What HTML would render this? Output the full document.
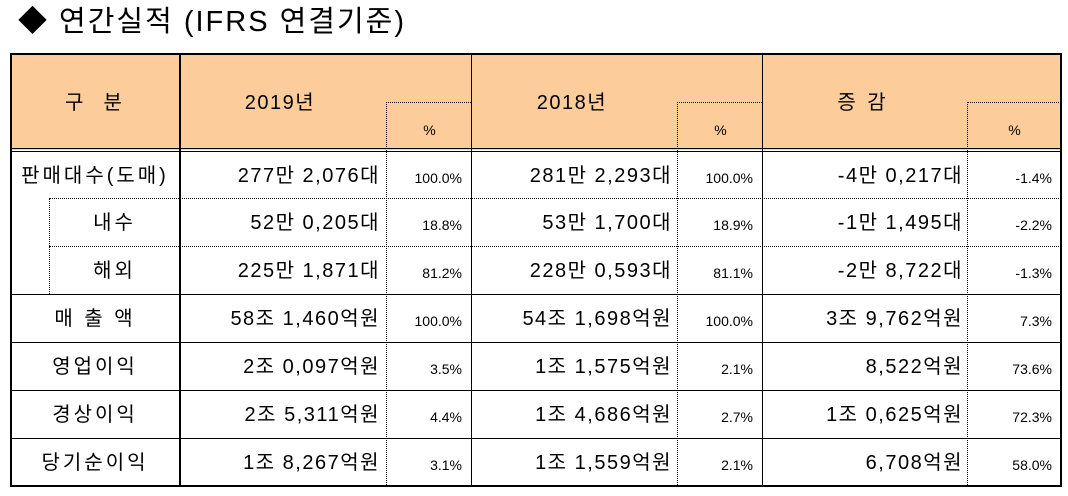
<!DOCTYPE html>
<html><head><meta charset="utf-8"><style>
body{margin:0;width:1068px;height:496px;background:#fff;position:relative;overflow:hidden;font-family:"Liberation Sans","Noto Sans CJK KR","NanumGothic",sans-serif;color:#000}
.a{position:absolute}
.hl{position:absolute;height:0}
.vl{position:absolute;width:0}
.t{position:absolute;font-size:20px;line-height:20px;white-space:nowrap;letter-spacing:1.5px}
.r{text-align:right}
.c{text-align:center}
.s{font-size:14px;letter-spacing:0}
.lab{letter-spacing:3px}
</style></head><body>
<div class="a" style="left:18px;top:3px;font-size:29px;line-height:38px;letter-spacing:2px">◆ 연간실적 (IFRS 연결기준)</div>
<div class="a" style="left:11px;top:54px;width:1050px;height:96px;background:#fccc9a"></div>
<div class="a" style="left:10px;top:53px;width:1048px;height:430px;border:2px solid #000"></div>
<div class="hl" style="left:11px;top:148px;width:1050px;border-top:1px solid #000"></div>
<div class="hl" style="left:11px;top:151px;width:1050px;border-top:1px solid #000"></div>
<div class="vl" style="left:179px;top:54px;height:431px;border-left:2px solid #000"></div>
<div class="vl" style="left:471px;top:54px;height:431px;border-left:1px solid #000"></div>
<div class="vl" style="left:762px;top:54px;height:431px;border-left:1px solid #000"></div>
<div class="vl" style="left:386px;top:102px;height:383px;border-left:1px dotted #000"></div>
<div class="vl" style="left:677px;top:102px;height:383px;border-left:1px dotted #000"></div>
<div class="vl" style="left:967px;top:102px;height:383px;border-left:1px dotted #000"></div>
<div class="hl" style="left:386px;top:102px;width:85px;border-top:1px dotted #000"></div>
<div class="hl" style="left:677px;top:102px;width:85px;border-top:1px dotted #000"></div>
<div class="hl" style="left:967px;top:102px;width:94px;border-top:1px dotted #000"></div>
<div class="vl" style="left:49px;top:198px;height:96px;border-left:1px dotted #000"></div>
<div class="hl" style="left:49px;top:198px;width:1012px;border-top:1px dotted #000"></div>
<div class="hl" style="left:49px;top:246px;width:1012px;border-top:1px dotted #000"></div>
<div class="hl" style="left:11px;top:294px;width:1050px;border-top:1px solid #000"></div>
<div class="hl" style="left:11px;top:342px;width:1050px;border-top:1px solid #000"></div>
<div class="hl" style="left:11px;top:390px;width:1050px;border-top:1px solid #000"></div>
<div class="hl" style="left:11px;top:438px;width:1050px;border-top:1px solid #000"></div>

<div class="t c lab" style="left:11px;width:168px;top:93px">구&nbsp;&nbsp;분</div>
<div class="t c" style="left:180px;width:200px;top:93px">2019년</div>
<div class="t c" style="left:472px;width:200px;top:93px">2018년</div>
<div class="t c lab" style="left:763px;width:200px;top:93px">증 감</div>
<div class="t c s" style="left:387px;width:85px;top:120px">%</div>
<div class="t c s" style="left:678px;width:85px;top:120px">%</div>
<div class="t c s" style="left:968px;width:93px;top:120px">%</div>

<div class="t c lab" style="left:11px;width:168px;top:166px">판매대수(도매)</div>
<div class="t r" style="left:180px;width:200px;top:166px">277만 2,076대</div>
<div class="t r s" style="left:387px;width:75px;top:168px">100.0%</div>
<div class="t r" style="left:472px;width:200px;top:166px">281만 2,293대</div>
<div class="t r s" style="left:678px;width:75px;top:168px">100.0%</div>
<div class="t r" style="left:763px;width:200px;top:166px">-4만 0,217대</div>
<div class="t r s" style="left:968px;width:84px;top:168px">-1.4%</div>

<div class="t c lab" style="left:50px;width:129px;top:213px">내수</div>
<div class="t r" style="left:180px;width:200px;top:213px">52만 0,205대</div>
<div class="t r s" style="left:387px;width:75px;top:215px">18.8%</div>
<div class="t r" style="left:472px;width:200px;top:213px">53만 1,700대</div>
<div class="t r s" style="left:678px;width:75px;top:215px">18.9%</div>
<div class="t r" style="left:763px;width:200px;top:213px">-1만 1,495대</div>
<div class="t r s" style="left:968px;width:84px;top:215px">-2.2%</div>

<div class="t c lab" style="left:50px;width:129px;top:261px">해외</div>
<div class="t r" style="left:180px;width:200px;top:261px">225만 1,871대</div>
<div class="t r s" style="left:387px;width:75px;top:263px">81.2%</div>
<div class="t r" style="left:472px;width:200px;top:261px">228만 0,593대</div>
<div class="t r s" style="left:678px;width:75px;top:263px">81.1%</div>
<div class="t r" style="left:763px;width:200px;top:261px">-2만 8,722대</div>
<div class="t r s" style="left:968px;width:84px;top:263px">-1.3%</div>

<div class="t c lab" style="left:11px;width:168px;top:309px">매&nbsp;출&nbsp;액</div>
<div class="t r" style="left:180px;width:200px;top:309px">58조 1,460억원</div>
<div class="t r s" style="left:387px;width:75px;top:311px">100.0%</div>
<div class="t r" style="left:472px;width:200px;top:309px">54조 1,698억원</div>
<div class="t r s" style="left:678px;width:75px;top:311px">100.0%</div>
<div class="t r" style="left:763px;width:200px;top:309px">3조 9,762억원</div>
<div class="t r s" style="left:968px;width:84px;top:311px">7.3%</div>

<div class="t c lab" style="left:11px;width:168px;top:357px">영업이익</div>
<div class="t r" style="left:180px;width:200px;top:357px">2조 0,097억원</div>
<div class="t r s" style="left:387px;width:75px;top:359px">3.5%</div>
<div class="t r" style="left:472px;width:200px;top:357px">1조 1,575억원</div>
<div class="t r s" style="left:678px;width:75px;top:359px">2.1%</div>
<div class="t r" style="left:763px;width:200px;top:357px">8,522억원</div>
<div class="t r s" style="left:968px;width:84px;top:359px">73.6%</div>

<div class="t c lab" style="left:11px;width:168px;top:405px">경상이익</div>
<div class="t r" style="left:180px;width:200px;top:405px">2조 5,311억원</div>
<div class="t r s" style="left:387px;width:75px;top:407px">4.4%</div>
<div class="t r" style="left:472px;width:200px;top:405px">1조 4,686억원</div>
<div class="t r s" style="left:678px;width:75px;top:407px">2.7%</div>
<div class="t r" style="left:763px;width:200px;top:405px">1조 0,625억원</div>
<div class="t r s" style="left:968px;width:84px;top:407px">72.3%</div>

<div class="t c lab" style="left:11px;width:168px;top:453px">당기순이익</div>
<div class="t r" style="left:180px;width:200px;top:453px">1조 8,267억원</div>
<div class="t r s" style="left:387px;width:75px;top:455px">3.1%</div>
<div class="t r" style="left:472px;width:200px;top:453px">1조 1,559억원</div>
<div class="t r s" style="left:678px;width:75px;top:455px">2.1%</div>
<div class="t r" style="left:763px;width:200px;top:453px">6,708억원</div>
<div class="t r s" style="left:968px;width:84px;top:455px">58.0%</div>
</body></html>
